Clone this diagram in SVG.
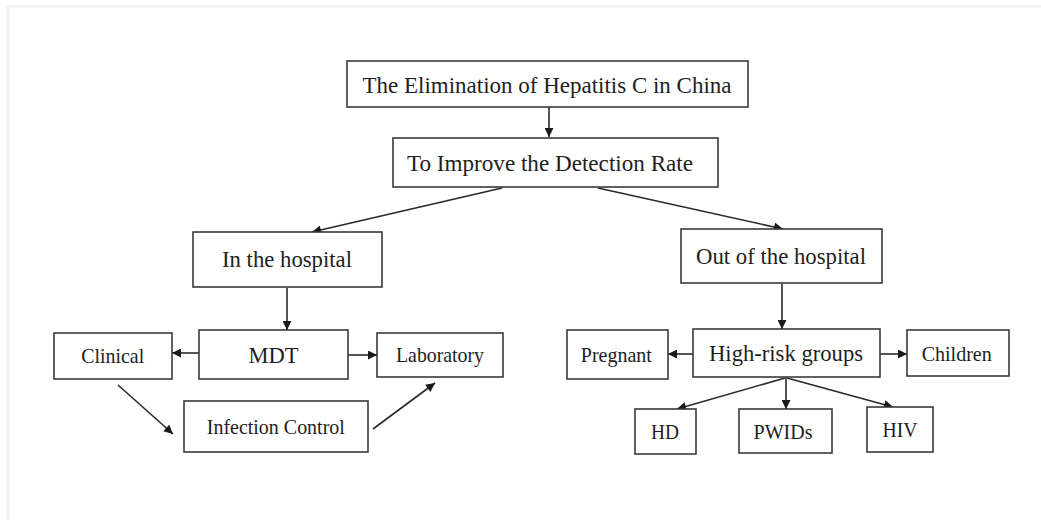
<svg xmlns="http://www.w3.org/2000/svg" width="1041" height="520" viewBox="0 0 1041 520">
  <style>
    .box { fill: #ffffff; stroke: #3a3a3a; stroke-width: 1.6; }
    .lbl { font-family: "Liberation Serif", "Times New Roman", serif; fill: #1e1e1e; text-anchor: middle; }
    .big { font-size: 24px; }
    .small { font-size: 21px; }
    .edge { stroke: #2a2a2a; stroke-width: 1.6; fill: none; marker-end: url(#arrow); }
    .frame { fill: #f3f3f3; }
  </style>
  <defs>
    <marker id="arrow" viewBox="0 0 10 10" refX="10" refY="5" markerWidth="10" markerHeight="9" markerUnits="userSpaceOnUse" orient="auto">
      <path d="M0,0 L10,5 L0,10 Z" fill="#1a1a1a"/>
    </marker>
  </defs>

  <rect width="1041" height="520" fill="#ffffff"/>
  <!-- faint page edge -->
  <rect class="frame" x="6" y="5" width="1035" height="3"/>
  <rect class="frame" x="6" y="5" width="4" height="515"/>

  <g id="connectors">
    <line class="edge" x1="549" y1="107" x2="549" y2="137"/>
    <line class="edge" x1="502" y1="188" x2="312" y2="232"/>
    <line class="edge" x1="598" y1="188" x2="783" y2="229"/>
    <line class="edge" x1="287" y1="288" x2="287" y2="330"/>
    <line class="edge" x1="199" y1="353" x2="172" y2="353"/>
    <line class="edge" x1="348" y1="355" x2="377" y2="355"/>
    <line class="edge" x1="118" y1="385" x2="173" y2="434"/>
    <line class="edge" x1="373" y1="429" x2="435" y2="383"/>
    <line class="edge" x1="782" y1="284" x2="782" y2="329"/>
    <line class="edge" x1="693" y1="354" x2="668" y2="354"/>
    <line class="edge" x1="880" y1="354" x2="907" y2="354"/>
    <line class="edge" x1="785" y1="378" x2="677" y2="409"/>
    <line class="edge" x1="786" y1="378" x2="786" y2="409"/>
    <line class="edge" x1="787" y1="378" x2="893" y2="407"/>
  </g>

  <g id="node-elimination">
    <rect class="box" x="347" y="61" width="401" height="46"/>
    <text class="lbl big" x="547" y="93" textLength="369" lengthAdjust="spacingAndGlyphs">The Elimination of Hepatitis C in China</text>
  </g>
  <g id="node-detection">
    <rect class="box" x="393" y="138" width="325" height="49"/>
    <text class="lbl big" x="550" y="171" textLength="286" lengthAdjust="spacingAndGlyphs">To Improve the Detection Rate</text>
  </g>
  <g id="node-in-hospital">
    <rect class="box" x="193" y="232" width="189" height="55"/>
    <text class="lbl big" x="287" y="267" textLength="130" lengthAdjust="spacingAndGlyphs">In the hospital</text>
  </g>
  <g id="node-out-hospital">
    <rect class="box" x="681" y="229" width="201" height="54"/>
    <text class="lbl big" x="781" y="264" textLength="170" lengthAdjust="spacingAndGlyphs">Out of the hospital</text>
  </g>
  <g id="node-mdt">
    <rect class="box" x="199" y="330" width="149" height="49"/>
    <text class="lbl big" x="273.5" y="363" textLength="50" lengthAdjust="spacingAndGlyphs">MDT</text>
  </g>
  <g id="node-clinical">
    <rect class="box" x="54" y="333" width="118" height="46"/>
    <text class="lbl small" x="112.7" y="363" textLength="63" lengthAdjust="spacingAndGlyphs">Clinical</text>
  </g>
  <g id="node-laboratory">
    <rect class="box" x="377" y="333" width="126" height="44"/>
    <text class="lbl small" x="440" y="362" textLength="88" lengthAdjust="spacingAndGlyphs">Laboratory</text>
  </g>
  <g id="node-infection-control">
    <rect class="box" x="184" y="401" width="184" height="51"/>
    <text class="lbl small" x="275.8" y="434" textLength="138" lengthAdjust="spacingAndGlyphs">Infection Control</text>
  </g>
  <g id="node-high-risk">
    <rect class="box" x="693" y="329" width="187" height="48"/>
    <text class="lbl big" x="786" y="361" textLength="154" lengthAdjust="spacingAndGlyphs">High-risk groups</text>
  </g>
  <g id="node-pregnant">
    <rect class="box" x="567" y="330" width="101" height="49"/>
    <text class="lbl small" x="616.3" y="362" textLength="71" lengthAdjust="spacingAndGlyphs">Pregnant</text>
  </g>
  <g id="node-children">
    <rect class="box" x="907" y="330" width="102" height="46"/>
    <text class="lbl small" x="956.7" y="361" textLength="70" lengthAdjust="spacingAndGlyphs">Children</text>
  </g>
  <g id="node-hd">
    <rect class="box" x="635" y="409" width="61" height="45"/>
    <text class="lbl small" x="665" y="439" textLength="28" lengthAdjust="spacingAndGlyphs">HD</text>
  </g>
  <g id="node-pwids">
    <rect class="box" x="739" y="409" width="93" height="44"/>
    <text class="lbl small" x="783" y="439" textLength="59" lengthAdjust="spacingAndGlyphs">PWIDs</text>
  </g>
  <g id="node-hiv">
    <rect class="box" x="867" y="407" width="66" height="45"/>
    <text class="lbl small" x="900" y="437" textLength="35" lengthAdjust="spacingAndGlyphs">HIV</text>
  </g>
</svg>
